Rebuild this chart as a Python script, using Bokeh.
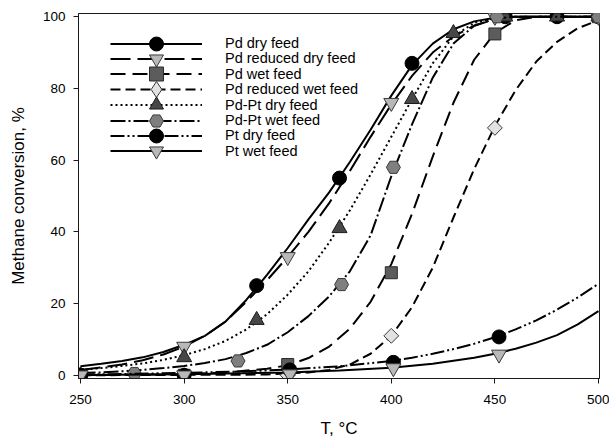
import numpy as np
from bokeh.plotting import figure
from bokeh.models import Legend, LegendItem, Range1d, FixedTicker
from bokeh.embed import file_html
from bokeh.resources import INLINE

FONT = "Liberation Sans"

# Measured conversions (markers)
pd_dry_T = [250, 335, 375, 410, 455, 480, 500]
pd_dry_X = [0, 25, 55, 87, 100, 100, 100]

pd_red_dry_T = [250, 300, 350, 400, 450, 500]
pd_red_dry_X = [0, 8, 33, 76, 100, 100]

pd_wet_T = [250, 300, 350, 400, 450, 500]
pd_wet_X = [0, 0, 3, 28.6, 95.2, 100]

pd_red_wet_T = [250, 300, 350, 400, 450, 500]
pd_red_wet_X = [0, 0, 0, 11, 69, 100]

pdpt_dry_T = [250, 300, 335, 375, 410, 430, 455, 480, 500]
pdpt_dry_X = [0, 5, 15.4, 41, 77, 95.4, 100, 100, 100]

pdpt_wet_T = [250, 276, 326, 376, 401, 451, 500]
pdpt_wet_X = [0, 0.5, 4, 25.3, 58, 100, 100]

pt_dry_T = [250, 300, 351, 401, 452]
pt_dry_X = [0, 0, 1.5, 3.6, 10.7]

pt_wet_T = [250, 300, 351, 401, 452]
pt_wet_X = [0, 0, 0.3, 2, 5.8]

# Fitted curves
pd_dry_fit_T = [250, 260, 270, 280, 290, 300, 310, 320, 330, 340, 350, 360, 370, 380, 390, 400, 410, 420, 430, 440, 450, 460, 500]
pd_dry_fit_X = [2.5, 3.2, 4.0, 5.0, 6.5, 8.5, 11, 15, 21, 28, 35.5, 43.5, 51, 59.5, 68.5, 78, 86.5, 92.5, 96.5, 98.7, 99.7, 100, 100]

pd_red_dry_fit_T = [250, 260, 270, 280, 290, 300, 310, 320, 330, 340, 350, 360, 370, 380, 390, 400, 410, 420, 430, 440, 450, 460, 500]
pd_red_dry_fit_X = [1.5, 2.2, 3.0, 4.2, 5.8, 8, 11, 15, 20.5, 26.5, 33, 40, 48, 57, 66.5, 75.5, 83.5, 90, 94.5, 97.5, 99.3, 100, 100]

pd_wet_fit_T = [250, 300, 320, 340, 350, 360, 370, 380, 390, 400, 410, 420, 430, 440, 450, 460, 470, 500]
pd_wet_fit_X = [0, 0.3, 0.8, 1.8, 2.8, 4.8, 8, 13, 20.5, 31, 45, 61, 76, 88, 95.5, 99, 100, 100]

pd_red_wet_fit_T = [250, 340, 360, 370, 380, 390, 400, 410, 420, 430, 440, 450, 460, 470, 480, 490, 500]
pd_red_wet_fit_X = [0, 0.2, 0.8, 1.5, 3, 6, 11, 19, 30, 44, 57.5, 69.5, 79.5, 87.5, 93, 96.8, 99]

pdpt_dry_fit_T = [250, 260, 270, 280, 290, 300, 310, 320, 330, 340, 350, 360, 370, 380, 390, 400, 410, 420, 430, 440, 450, 460, 500]
pdpt_dry_fit_X = [1.5, 2.0, 2.6, 3.3, 4.3, 5.6, 7.3, 9.6, 12.8, 17, 22.5, 29, 37, 46, 56, 66.5, 77, 87, 94.5, 98.3, 99.6, 100, 100]

pdpt_wet_fit_T = [250, 260, 270, 280, 290, 300, 310, 320, 330, 340, 350, 360, 370, 380, 390, 400, 410, 420, 430, 440, 450, 460, 500]
pdpt_wet_fit_X = [0.6, 0.8, 1.1, 1.5, 2.0, 2.6, 3.4, 4.5, 6.2, 8.5, 12, 16.5, 22, 29, 39, 55.5, 70, 83, 92.5, 97.5, 99.5, 100, 100]

pt_dry_fit_T = [250, 275, 300, 325, 350, 375, 400, 410, 420, 430, 440, 450, 460, 470, 480, 490, 500]
pt_dry_fit_X = [0.2, 0.4, 0.7, 1.0, 1.6, 2.5, 4.0, 4.9, 6.0, 7.3, 8.8, 10.6, 12.8, 15.3, 18.3, 21.7, 25.5]

pt_wet_fit_T = [250, 300, 350, 375, 400, 420, 440, 450, 460, 470, 480, 490, 500]
pt_wet_fit_X = [0.1, 0.3, 0.8, 1.3, 2.1, 3.2, 4.9, 6.0, 7.4, 9.1, 11.2, 14.2, 17.9]

x_ticks = [250, 300, 350, 400, 450, 500]
y_ticks = [0, 20, 40, 60, 80, 100]

# label, marker T, marker X, curve T, curve X, dash, marker, size, fill, edge, angle, legend marker
series = [
    ("Pd dry feed", pd_dry_T, pd_dry_X, pd_dry_fit_T, pd_dry_fit_X,
     "solid", "circle", 14, "black", "black", 0, None),
    ("Pd reduced dry feed", pd_red_dry_T, pd_red_dry_X, pd_red_dry_fit_T, pd_red_dry_fit_X,
     "20 7", "inverted_triangle", 15, "#b8b8b8", "#3a3a3a", 0, None),
    ("Pd wet feed", pd_wet_T, pd_wet_X, pd_wet_fit_T, pd_wet_fit_X,
     "15 7", "square", 12, "#5c5c5c", "#2a2a2a", 0, None),
    ("Pd reduced wet feed", pd_red_wet_T, pd_red_wet_X, pd_red_wet_fit_T, pd_red_wet_fit_X,
     "10 5", "square", 10.5, "#e2e2e2", "#3a3a3a", np.pi / 4, "diamond"),
    ("Pd-Pt dry feed", pdpt_dry_T, pdpt_dry_X, pdpt_dry_fit_T, pdpt_dry_fit_X,
     "2 3", "triangle", 15, "#474747", "#1a1a1a", 0, None),
    ("Pd-Pt wet feed", pdpt_wet_T, pdpt_wet_X, pdpt_wet_fit_T, pdpt_wet_fit_X,
     "15 3 2 3", "hex", 14, "#7f7f7f", "#3a3a3a", 0, None),
    ("Pt dry feed", pt_dry_T, pt_dry_X, pt_dry_fit_T, pt_dry_fit_X,
     "14 3 2 3 2 3", "circle", 14, "black", "black", 0, None),
    ("Pt wet feed", pt_wet_T, pt_wet_X, pt_wet_fit_T, pt_wet_fit_X,
     "solid", "inverted_triangle", 15, "#b8b8b8", "#3a3a3a", 0, None),
]

p = figure(width=609, height=440, output_backend="svg", toolbar_location=None,
           x_range=Range1d(249.0, 500.5), y_range=Range1d(-0.9, 100.9),
           min_border_left=78, min_border_right=10, min_border_top=13, min_border_bottom=61)

p.background_fill_color = "white"
p.border_fill_color = "white"
p.outline_line_color = "#1a1a1a"
p.outline_line_width = 1
p.xgrid.visible = False
p.ygrid.visible = False

# One single-row legend per series so the rows can sit closer than the marker height
ROW0_Y = 44.0      # centre of the first legend row, px from top of canvas
ROW_STEP = 15.4
FRAME_BOTTOM = 379.0
for i, (label, T, X, fT, fX, dash, marker, size, fill, edge, ang, leg_marker) in enumerate(series):
    lr = p.line(fT, fX, line_color="black", line_width=2, line_dash=dash)
    sr = p.scatter(T, X, marker=marker, size=size, fill_color=fill,
                   line_color=edge, line_width=1, angle=ang)
    leg_renderers = [lr, sr]
    gh = 35
    if leg_marker is not None:
        # legend-only marker (a single NaN point, so nothing lands on the axes)
        lm = p.scatter(np.array([np.nan]), np.array([np.nan]), marker=leg_marker,
                       size=size, fill_color=fill, line_color=edge, line_width=1)
        leg_renderers = [lr, lm]
        gh = 40
    row_y = ROW0_Y + ROW_STEP * i
    legend = Legend(items=[LegendItem(label=label, renderers=leg_renderers)],
                    location=(32, FRAME_BOTTOM - row_y - gh / 2),
                    orientation="vertical",
                    glyph_width=92, glyph_height=gh, spacing=0, padding=0, margin=0,
                    label_standoff=23, label_text_font=FONT, label_text_font_size="14.5px",
                    label_text_color="black", label_height=gh,
                    border_line_color=None, background_fill_alpha=0)
    p.add_layout(legend, "center")

for ax in (p.xaxis[0], p.yaxis[0]):
    ax.axis_line_color = "#1a1a1a"
    ax.axis_line_width = 1
    ax.major_tick_line_color = "#1a1a1a"
    ax.major_tick_out = 5
    ax.major_tick_in = 0
    ax.minor_tick_line_color = None
    ax.major_label_text_font = FONT
    ax.major_label_text_font_size = "13.5px"
    ax.major_label_text_color = "black"
    ax.axis_label_text_font = FONT
    ax.axis_label_text_font_size = "17px"
    ax.axis_label_text_font_style = "normal"
    ax.axis_label_text_color = "black"

p.xaxis[0].ticker = FixedTicker(ticks=x_ticks)
p.yaxis[0].ticker = FixedTicker(ticks=y_ticks)
p.xaxis[0].axis_label = "T, °C"
p.yaxis[0].axis_label = "Methane conversion, %"
p.xaxis[0].major_label_standoff = 11
p.yaxis[0].major_label_standoff = 8
p.xaxis[0].axis_label_standoff = 12
p.yaxis[0].axis_label_standoff = 12

open("out.html", "w").write(file_html(p, INLINE))
